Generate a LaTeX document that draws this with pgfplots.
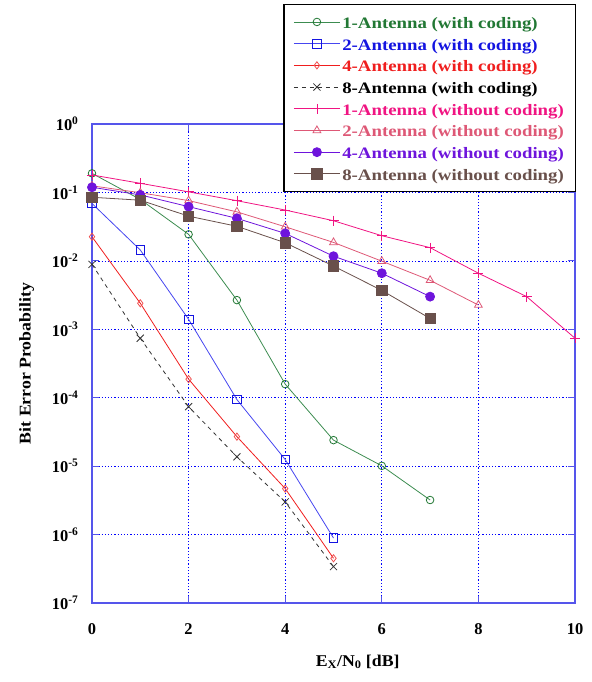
\documentclass[border=0pt]{standalone}
\usepackage{fontspec}
\setmainfont{Liberation Serif}
\newfontfamily\legfont[FakeStretch=1.18]{Liberation Serif}
\newfontfamily\labfont[FakeStretch=1.08]{Liberation Serif}
\usepackage{pgfplots}
\pgfplotsset{compat=1.18}
\definecolor{cGreen}{RGB}{34,120,52}
\definecolor{cGreenL}{RGB}{60,140,80}
\definecolor{cBlue}{RGB}{20,20,225}
\definecolor{cBlueL}{RGB}{70,70,240}
\definecolor{cRed}{RGB}{240,30,30}
\definecolor{cRedL}{RGB}{240,80,80}
\definecolor{cPink}{RGB}{240,20,130}
\definecolor{cPink2}{RGB}{222,88,118}
\definecolor{cPurple}{RGB}{110,20,220}
\definecolor{cBrown}{RGB}{105,80,75}
\definecolor{frameblue}{RGB}{85,85,235}
\begin{document}
\begin{tikzpicture}
\useasboundingbox (-92bp,-79bp) rectangle (500bp,603bp);
\begin{axis}[
  at={(0,0)}, anchor=south west,
  scale only axis, width=483bp, height=479bp,
  ymode=log, xmin=0, xmax=10, ymin=1e-7, ymax=1,
  xtick={0,2,4,6,8,10}, xticklabels={0,2,4,6,8,10},
  ytick={1e-7,1e-6,1e-5,1e-4,1e-3,1e-2,1e-1,1},
  yticklabels={10\textsuperscript{-7},10\textsuperscript{-6},10\textsuperscript{-5},10\textsuperscript{-4},10\textsuperscript{-3},10\textsuperscript{-2},10\textsuperscript{-1},10\textsuperscript{0}},
  yminorticks=false,
  tick align=inside, major tick length=7bp,
  grid=major,
  grid style={blue, dash pattern=on 1.2bp off 2bp, line width=0.7bp},
  axis line style={frameblue, line width=1.3bp},
  tick style={frameblue, line width=1bp},
  ticklabel style={font=\fontsize{16.5}{18}\selectfont\bfseries},
  xticklabel style={yshift=-17bp},
  yticklabel style={xshift=-10bp},
  xlabel={E\textsubscript{X}/N\textsubscript{0} [dB]},
  xlabel style={at={(axis description cs:0.55,-0.123)}, anchor=center, font=\labfont\fontsize{16.5}{18}\selectfont\bfseries},
  ylabel={Bit Error Probability},
  ylabel style={at={(axis description cs:-0.135,0.5)}, anchor=center, font=\labfont\fontsize{16.5}{18}\selectfont\bfseries},
  clip=false,
  legend image code/.code={\draw[mark repeat=2,mark phase=2] plot coordinates {(0bp,0bp) (23bp,0bp) (46bp,0bp)};},
  legend style={at={(rel axis cs:1.002,1.2505)}, anchor=north east, draw=black, line width=1.2bp, fill=white,
    font=\legfont\fontsize{16}{18}\selectfont\bfseries,
    nodes={inner ysep=2.85bp, text height=14.5bp, text depth=1.5bp},
    inner xsep=9.5bp, inner ysep=6.5bp},
  legend cell align=left,
]
\addplot[color=cGreenL, line width=0.8bp, mark=o, mark size=3.8bp, mark options={solid, color=cGreen}]
  coordinates {(0,0.19)(1,0.079)(2,0.0244)(3,0.00267)(4,1.58e-4)(5,2.4e-5)(6,1.01e-5)(7,3.2e-6)};
\addlegendentry{\textcolor{cGreen}{1-Antenna (with coding)}}
\addplot[color=cBlueL, line width=0.8bp, mark=square, mark size=4.3bp, mark options={solid, color=cBlue}]
  coordinates {(0,0.069)(1,0.0144)(2,1.40e-3)(3,9.4e-5)(4,1.25e-5)(5,8.9e-7)};
\addlegendentry{\textcolor{cBlue}{2-Antenna (with coding)}}
\addplot[color=cRed, line width=0.8bp, mark=diamond, mark size=3.6bp, mark options={solid, color=cRedL}]
  coordinates {(0,0.0225)(1,2.4e-3)(2,1.87e-4)(3,2.7e-5)(4,4.7e-6)(5,4.5e-7)};
\addlegendentry{\textcolor{cRed}{4-Antenna (with coding)}}
\addplot[color=black!80, line width=0.8bp, dash pattern=on 4bp off 4bp, mark=x, mark size=5bp, mark options={solid}]
  coordinates {(0,8.9e-3)(1,7.4e-4)(2,7.4e-5)(3,1.37e-5)(4,3.0e-6)(5,3.4e-7)};
\addlegendentry{\textcolor{black}{8-Antenna (with coding)}}
\addplot[color=cPink, line width=0.8bp, mark=+, mark size=5bp, mark options={solid}]
  coordinates {(0,0.18)(1,0.136)(2,0.102)(3,0.0757)(4,0.0553)(5,0.0386)(6,0.0233)(7,0.0156)(8,6.6e-3)(9,3.0e-3)(10,7.4e-4)};
\addlegendentry{\textcolor{cPink}{1-Antenna (without coding)}}
\addplot[color=cPink2, line width=0.8bp, mark=triangle, mark size=4.5bp, mark options={solid}]
  coordinates {(0,0.125)(1,0.099)(2,0.076)(3,0.052)(4,0.0315)(5,0.0186)(6,9.9e-3)(7,5.2e-3)(8,2.26e-3)};
\addlegendentry{\textcolor{cPink2}{2-Antenna (without coding)}}
\addplot[color=cPurple, line width=0.8bp, mark=*, mark size=4.5bp, mark options={solid, fill=cPurple}]
  coordinates {(0,0.119)(1,0.092)(2,0.062)(3,0.0418)(4,0.0252)(5,0.0117)(6,6.6e-3)(7,3.0e-3)};
\addlegendentry{\textcolor{cPurple}{4-Antenna (without coding)}}
\addplot[color=cBrown, line width=0.8bp, mark=square*, mark size=5.2bp, mark options={solid, fill=cBrown}]
  coordinates {(0,0.085)(1,0.077)(2,0.045)(3,0.032)(4,0.0184)(5,8.4e-3)(6,3.7e-3)(7,1.44e-3)};
\addlegendentry{\textcolor{cBrown}{8-Antenna (without coding)}}
\end{axis}
\end{tikzpicture}
\end{document}
